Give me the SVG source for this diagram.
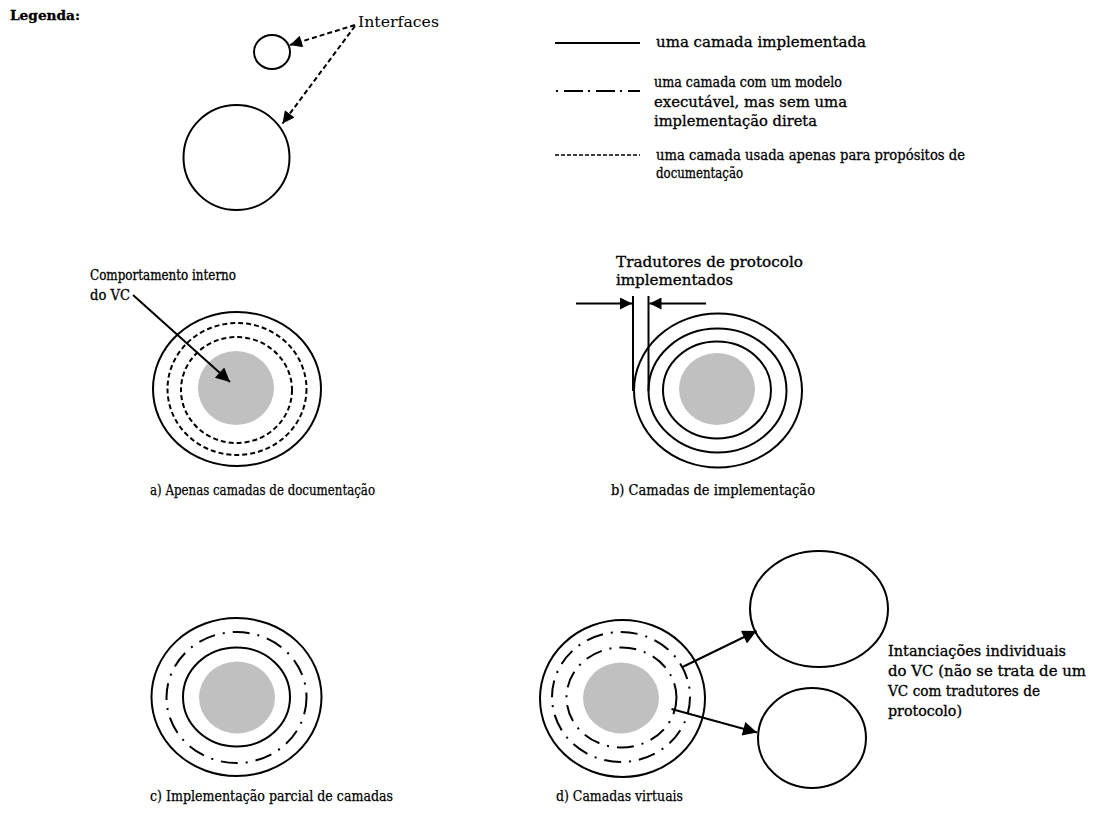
<svg xmlns="http://www.w3.org/2000/svg" width="1093" height="813" viewBox="0 0 1093 813">
<style>
text{font-family:"DejaVu Serif","Liberation Serif",serif;fill:#000}
.t{stroke:#000;stroke-width:0.3}
.lg{font-size:14.5px}
.lb{font-size:14px}
.cap{font-size:14px;stroke:#000;stroke-width:0.25}
.s{fill:none;stroke:#000;stroke-width:2}
.d{fill:none;stroke:#000;stroke-width:2;stroke-dasharray:5 3}
.dd{fill:none;stroke:#000;stroke-width:2;stroke-dasharray:17 8 2 8}
.g{fill:#c0c0c0;stroke:none}
.c{fill:none;stroke:#000;stroke-width:2}
.cd{fill:none;stroke:#000;stroke-width:2;stroke-dasharray:5 3}
</style>
<defs>
<marker id="ah" viewBox="0 0 10 10" refX="10" refY="5" markerWidth="20" markerHeight="14" orient="auto" markerUnits="userSpaceOnUse"><path d="M0,0 L10,5 L0,10 z" fill="#000" stroke="none"/></marker>
<marker id="ahb" viewBox="0 0 10 10" refX="10" refY="5" markerWidth="18" markerHeight="12" orient="auto" markerUnits="userSpaceOnUse"><path d="M0,0 L10,5 L0,10 z" fill="#000" stroke="none"/></marker>
<marker id="ahs" viewBox="0 0 10 10" refX="10" refY="5" markerWidth="16" markerHeight="12" orient="auto" markerUnits="userSpaceOnUse"><path d="M0,0 L10,5 L0,10 z" fill="#000" stroke="none"/></marker>
</defs>

<g id="legend">
<text class="t" x="10" y="20" style="font-size:13.5px;font-weight:bold" textLength="70" lengthAdjust="spacingAndGlyphs">Legenda:</text>
<ellipse cx="272" cy="52" rx="18" ry="17" class="s"/>
<ellipse cx="236.5" cy="157.5" rx="53" ry="52.5" class="s"/>
<text x="358" y="27" style="font-size:15.5px" textLength="81" lengthAdjust="spacingAndGlyphs">Interfaces</text>
<line x1="555" y1="43" x2="640" y2="43" class="s"/>
<line x1="556" y1="91" x2="640" y2="91" style="fill:none;stroke:#000;stroke-width:2;stroke-dasharray:2 6 19 5"/>
<line x1="555" y1="155" x2="640" y2="155" style="fill:none;stroke:#000;stroke-width:1.5;stroke-dasharray:4 2"/>
<text class="lg t" x="656" y="47" textLength="210" lengthAdjust="spacingAndGlyphs">uma camada implementada</text>
<text class="lg t" x="654" y="87" textLength="188" lengthAdjust="spacingAndGlyphs">uma camada com um modelo</text>
<text class="lg t" x="654" y="107" textLength="193" lengthAdjust="spacingAndGlyphs">executável, mas sem uma</text>
<text class="lg t" x="654" y="126" textLength="163" lengthAdjust="spacingAndGlyphs">implementação direta</text>
<text class="lg t" x="656" y="160" textLength="309" lengthAdjust="spacingAndGlyphs">uma camada usada apenas para propósitos de</text>
<text class="lg t" x="656" y="178" textLength="87" lengthAdjust="spacingAndGlyphs">documentação</text>
</g>

<g id="fig-a">
<ellipse cx="237" cy="389" rx="84" ry="77" class="s"/>
<ellipse cx="237" cy="389" rx="69.5" ry="66" class="d"/>
<ellipse cx="236.5" cy="390" rx="55.5" ry="53" class="d"/>
<ellipse cx="236" cy="388" rx="38" ry="37" class="g"/>
<text class="lb t" x="90" y="280" textLength="146" lengthAdjust="spacingAndGlyphs">Comportamento interno</text>
<text class="lb t" x="90" y="300" textLength="40" lengthAdjust="spacingAndGlyphs">do VC</text>
<text class="cap" x="150" y="495" textLength="225" lengthAdjust="spacingAndGlyphs">a) Apenas camadas de documentação</text>
</g>

<g id="fig-b">
<ellipse cx="718" cy="390.5" rx="84" ry="77" class="s"/>
<ellipse cx="717.5" cy="390.5" rx="69" ry="62" class="s"/>
<ellipse cx="717" cy="390" rx="54" ry="48.5" class="s"/>
<ellipse cx="717" cy="389" rx="38" ry="36" class="g"/>
<line x1="633" y1="296" x2="633" y2="391" class="s"/>
<line x1="648.5" y1="296" x2="648.5" y2="391" class="s"/>
<text class="lb t" x="616" y="267" textLength="187" lengthAdjust="spacingAndGlyphs">Tradutores de protocolo</text>
<text class="lb t" x="616" y="285" textLength="117" lengthAdjust="spacingAndGlyphs">implementados</text>
<text class="cap" x="611" y="495" textLength="204" lengthAdjust="spacingAndGlyphs">b) Camadas de implementação</text>
</g>

<g id="fig-c">
<ellipse cx="236.5" cy="697" rx="85" ry="79" class="s"/>
<ellipse cx="236.5" cy="697.5" rx="70" ry="65.5" class="dd"/>
<ellipse cx="236.5" cy="697" rx="53.5" ry="49.5" class="s"/>
<ellipse cx="237" cy="697.5" rx="38" ry="36" class="g"/>
<text class="cap" x="150" y="801" textLength="243" lengthAdjust="spacingAndGlyphs">c) Implementação parcial de camadas</text>
</g>

<g id="fig-d">
<ellipse cx="622.5" cy="698.5" rx="82.5" ry="78.5" class="s"/>
<ellipse cx="621" cy="697" rx="69" ry="65" class="dd"/>
<ellipse cx="621.5" cy="697.5" rx="55" ry="50" class="dd"/>
<ellipse cx="621" cy="698" rx="38" ry="35.5" class="g"/>
<text class="cap" x="556" y="801" textLength="127" lengthAdjust="spacingAndGlyphs">d) Camadas virtuais</text>
</g>

<g id="inst-1">
<ellipse cx="819" cy="609" rx="69" ry="58" class="s"/>
</g>
<g id="inst-2">
<ellipse cx="812" cy="738" rx="54" ry="50" class="s"/>
</g>
<g id="inst-label">
<text class="lb t" x="888" y="656" textLength="178" lengthAdjust="spacingAndGlyphs">Intanciações individuais</text>
<text class="lb t" x="888" y="676" textLength="198" lengthAdjust="spacingAndGlyphs">do VC (não se trata de um</text>
<text class="lb t" x="888" y="696" textLength="152" lengthAdjust="spacingAndGlyphs">VC com tradutores de</text>
<text class="lb t" x="888" y="716" textLength="74" lengthAdjust="spacingAndGlyphs">protocolo)</text>
</g>

<g id="connectors">
<line x1="355" y1="25" x2="290" y2="45" class="cd" marker-end="url(#ahs)"/>
<line x1="355" y1="26" x2="282.5" y2="123.5" class="cd" marker-end="url(#ahs)"/>
<line x1="133" y1="295" x2="230" y2="382" class="c" marker-end="url(#ah)"/>
<line x1="576" y1="303.5" x2="632" y2="303.5" class="c" marker-end="url(#ahb)"/>
<line x1="706" y1="303.5" x2="649.5" y2="303.5" class="c" marker-end="url(#ahb)"/>
<line x1="682.5" y1="667" x2="756.5" y2="631" class="c" marker-end="url(#ah)"/>
<line x1="671.5" y1="709" x2="757" y2="732.5" class="c" marker-end="url(#ah)"/>
</g>
</svg>
